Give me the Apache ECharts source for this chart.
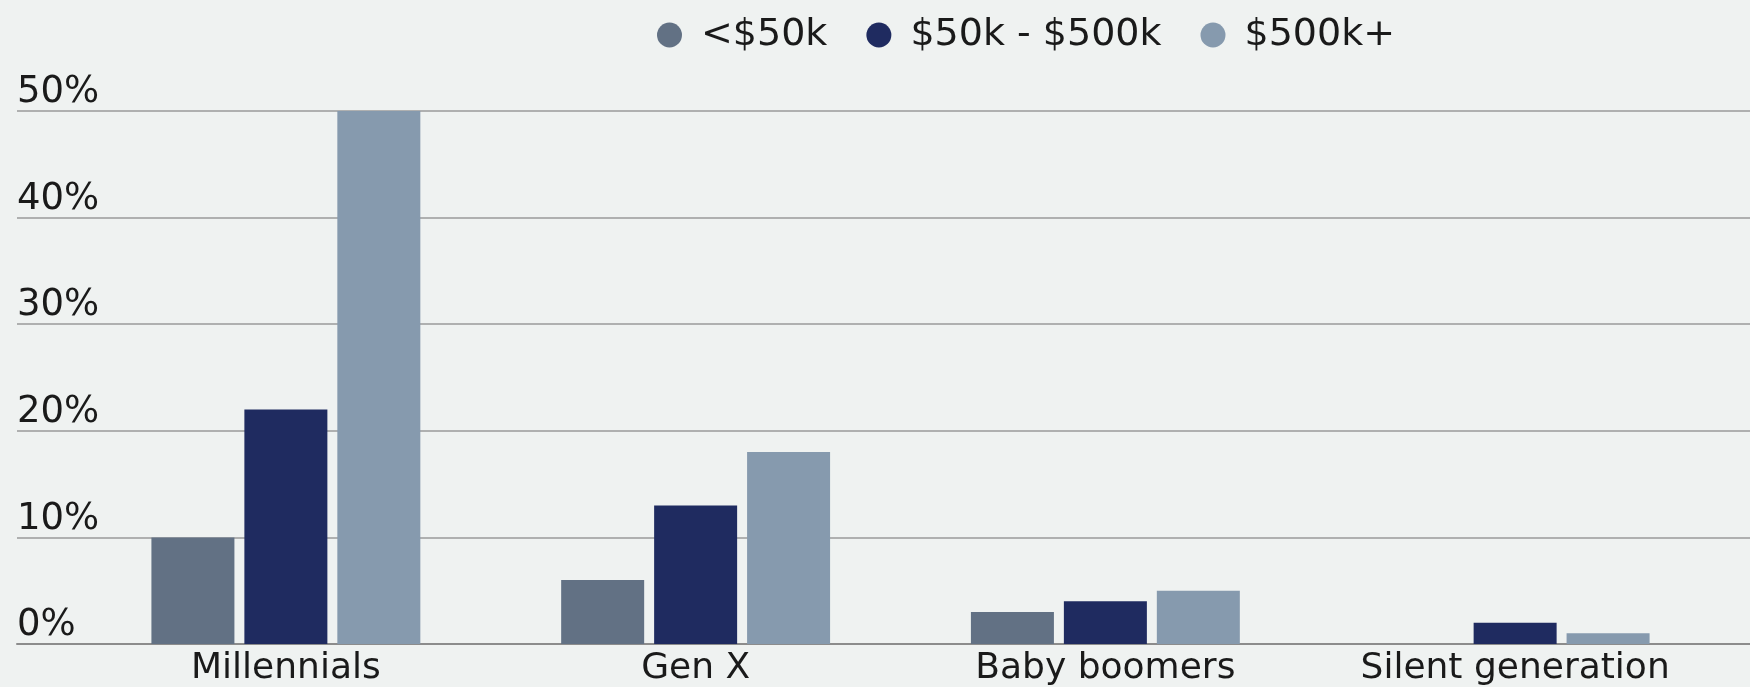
<!DOCTYPE html>
<html>
<head>
<meta charset="utf-8">
<script src="https://cdn.jsdelivr.net/npm/echarts@6/dist/echarts.min.js"></script>
<style>
html,body{margin:0;padding:0;background:#eff2f1;}
#c{width:1750px;height:687px;}
</style>
</head>
<body>
<div id="c"></div>
<script>
const categories = ['Millennials', 'Gen X', 'Baby boomers', 'Silent generation'];
const seriesNames = ['<$50k', '$50k - $500k', '$500k+'];
const under50k = [10, 6, 3, 0];
const mid50to500k = [22, 13, 4, 2];
const over500k = [50, 18, 5, 1];
const yTicks = [0, 10, 20, 30, 40, 50];

const colors = ['#627184', '#1f2b60', '#869aae'];
const font = 'DejaVu Sans';

const chart = echarts.init(document.getElementById('c'), null, {renderer: 'canvas'});
const values = [under50k, mid50to500k, over500k];

chart.setOption({
  backgroundColor: '#eff2f1',
  animation: false,
  color: colors,
  legend: {
    left: 657, top: 16,
    icon: 'circle',
    itemWidth: 25, itemHeight: 25,
    itemGap: 39,
    padding: 0,
    textStyle: {fontFamily: font, fontSize: 38, color: '#1a1a1a', padding: [0, 0, 0, 14]},
    data: seriesNames
  },
  grid: [
    {left: 17, right: 0, top: 111, bottom: 43, containLabel: false},
    {left: 81, right: 30, top: 111, bottom: 43, containLabel: false}
  ],
  xAxis: [
    {type: 'category', gridIndex: 0, data: categories, axisLabel: {show: false},
     axisTick: {show: false}, axisLine: {show: true, lineStyle: {color: '#8c8c8c', width: 2}}},
    {type: 'category', gridIndex: 1, data: categories,
     axisTick: {show: false}, axisLine: {show: false},
     axisLabel: {fontFamily: font, fontSize: 36, color: '#1a1a1a', margin: 7}}
  ],
  yAxis: [
    {type: 'value', gridIndex: 0, min: yTicks[0], max: yTicks[yTicks.length - 1], interval: 10,
     axisLine: {show: false}, axisTick: {show: false},
     splitLine: {show: true, lineStyle: {color: '#9a9a9a', width: 1.5}},
     axisLabel: {inside: true, margin: 0, verticalAlign: 'bottom', align: 'left',
                 fontFamily: font, fontSize: 37, color: '#1a1a1a', formatter: '{value}%'}},
    {type: 'value', gridIndex: 1, min: yTicks[0], max: yTicks[yTicks.length - 1], interval: 10, show: false,
     splitLine: {show: false}}
  ],
  series: seriesNames.map((n, i) => ({
    name: n, type: 'bar', xAxisIndex: 1, yAxisIndex: 1,
    barWidth: 83, barGap: '12%',
    data: values[i]
  }))
});
</script>
</body>
</html>
